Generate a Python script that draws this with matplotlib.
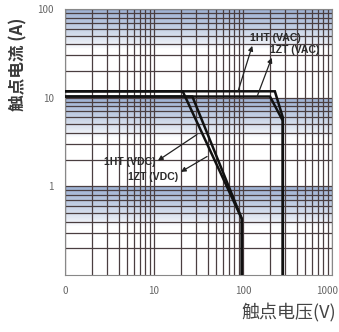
import numpy as np
import matplotlib
matplotlib.use('Agg')
import matplotlib.pyplot as plt
import matplotlib.transforms as mtransforms
from matplotlib.colors import LinearSegmentedColormap

plt.rcParams['font.family'] = ['Noto Sans CJK SC', 'DejaVu Sans']

# curve data (voltage V, current A)
v_1ht_vac = [1, 228, 280, 280]
i_1ht_vac = [11.8, 11.8, 6, 0.1]
v_1zt_vac = [1, 201, 280, 280]
i_1zt_vac = [10.3, 10.3, 5.5, 0.1]
v_1ht_vdc = [1, 21, 97, 97]
i_1ht_vdc = [11.8, 11.8, 0.43, 0.1]
v_1zt_vdc = [1, 27, 97, 97]
i_1zt_vdc = [10.3, 10.3, 0.43, 0.1]

x_ticks = [1, 10, 100, 1000]
x_ticklabels = ['0', '10', '100', '1000']
y_ticks = [1, 10, 100]
y_ticklabels = ['1', '10', '100']

fig = plt.figure(figsize=(3.39, 3.32), dpi=100)
ax = fig.add_axes([65 / 339, 1 - 275 / 332, 267 / 339, 266 / 332])
ax.set_xscale('log')
ax.set_yscale('log')
ax.set_xlim(1, 1000)
ax.set_ylim(0.1, 100)

# blue band at the top of each decade, fading downwards
ye = np.logspace(-1, 2, 400)
yc = np.log10(ye[:-1] * np.sqrt(ye[1] / ye[0]))
frac = yc - np.floor(yc)
shade = np.clip((frac - 0.55) / 0.45, 0, 1) ** 0.8
cmap = LinearSegmentedColormap.from_list('bl', ['#ffffff', '#9cb0d2'])
ax.pcolormesh([1, 1000], ye, shade.reshape(-1, 1), cmap=cmap, vmin=0, vmax=1,
              shading='flat', zorder=0)

gcol = '#4a3e40'
ax.grid(True, which='both', color=gcol, lw=0.9, zorder=1)
ax.set_axisbelow(True)

for v, i in [(v_1ht_vac, i_1ht_vac), (v_1zt_vac, i_1zt_vac),
             (v_1ht_vdc, i_1ht_vdc), (v_1zt_vdc, i_1zt_vdc)]:
    ax.plot(v, i, color='#111111', lw=1.8, zorder=3, solid_joinstyle='miter')

for s in ax.spines.values():
    s.set_color('#888888')
    s.set_linewidth(0.8)

ax.set_xticks(x_ticks)
ax.set_xticklabels(x_ticklabels)
ax.set_yticks(y_ticks)
ax.set_yticklabels(y_ticklabels)
ax.tick_params(which='both', length=0, labelsize=7, colors='#666666')
ax.tick_params(axis='x', pad=8)
ax.tick_params(axis='y', pad=8)
# keep "1000" inside the picture
last = ax.get_xticklabels()[-1]
last.set_transform(last.get_transform() +
                   mtransforms.ScaledTranslation(-5 / 100, 0, fig.dpi_scale_trans))

def arrow(rel):
    return dict(arrowstyle='<|-', color='#222222', lw=0.9, mutation_scale=7,
                shrinkA=0, shrinkB=0, relpos=rel)

tkw = dict(fontsize=7.6, color='#2a2a2a', family='Liberation Sans',
           fontweight='bold', zorder=4)
ax.annotate('1HT (VAC)', xy=(88, 11.8), xytext=(120, 47), va='center', ha='left',
            arrowprops=arrow((0.06, 0.0)), **tkw)
ax.annotate('1ZT (VAC)', xy=(144, 10.3), xytext=(200, 34.5), va='center', ha='left',
            arrowprops=arrow((0.06, 0.0)), **tkw)
ax.annotate('1HT (VDC)', xy=(30.4, 3.84), xytext=(10.3, 1.86), va='center', ha='right',
            arrowprops=arrow((1.0, 0.5)), **tkw)
ax.annotate('1ZT (VDC)', xy=(39.5, 2.17), xytext=(5.1, 1.29), va='center', ha='left',
            arrowprops=arrow((1.0, 0.8)), **tkw)

fig.text(18 / 339, 1 - 64 / 332, '触点电流 (A)', rotation=90, ha='center', va='center',
         fontsize=12, color='#3a3a3a', fontweight='bold')
fig.text(336 / 339, 1 - 313 / 332, '触点电压(V)', ha='right', va='center',
         fontsize=13, color='#444444')

fig.savefig('out.png', dpi=100)
